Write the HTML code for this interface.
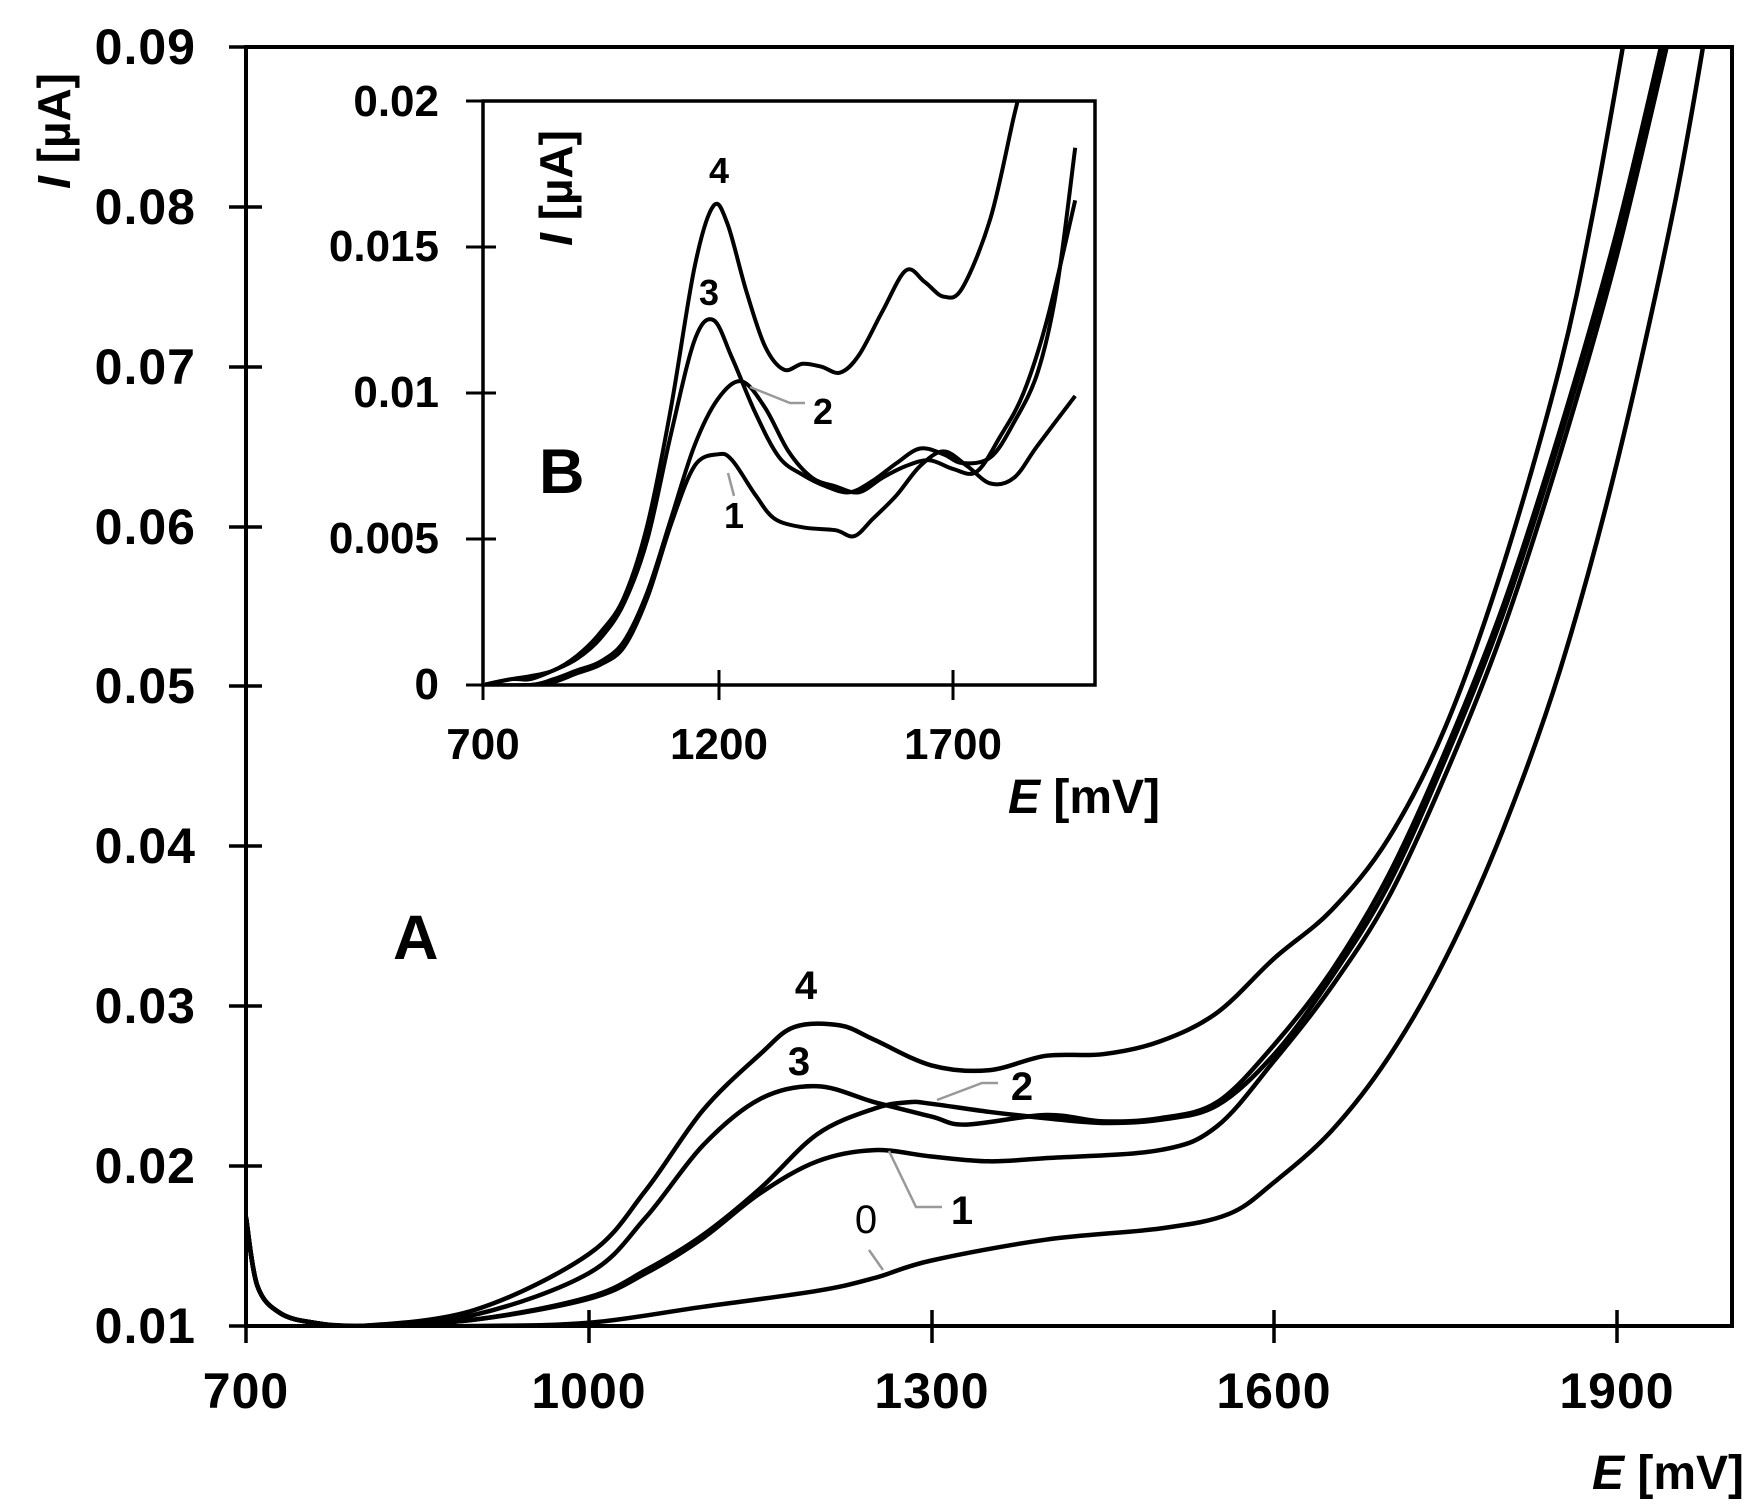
<!DOCTYPE html>
<html><head><meta charset="utf-8"><style>
html,body{margin:0;padding:0;background:#fff;}
svg{display:block;}
text{font-family:"Liberation Sans",Arial,sans-serif;font-weight:bold;fill:#000;}
</style></head><body>
<svg id="s" width="1758" height="1512" viewBox="0 0 1758 1512" xmlns="http://www.w3.org/2000/svg">
<g id="main"></g>
<rect x="246" y="47" width="1486" height="1279" fill="none" stroke="#000" stroke-width="4"/>
<g stroke="#000" stroke-width="3.5">
<line x1="229" y1="47" x2="262" y2="47"/><line x1="229" y1="207" x2="262" y2="207"/><line x1="229" y1="367" x2="262" y2="367"/><line x1="229" y1="527" x2="262" y2="527"/><line x1="229" y1="686" x2="262" y2="686"/><line x1="229" y1="846" x2="262" y2="846"/><line x1="229" y1="1006" x2="262" y2="1006"/><line x1="229" y1="1166" x2="262" y2="1166"/><line x1="229" y1="1326" x2="262" y2="1326"/>
<line x1="246" y1="1310" x2="246" y2="1343"/><line x1="589" y1="1310" x2="589" y2="1343"/><line x1="932" y1="1310" x2="932" y2="1343"/><line x1="1274" y1="1310" x2="1274" y2="1343"/><line x1="1617" y1="1310" x2="1617" y2="1343"/>
</g>
<g font-size="50" text-anchor="end" letter-spacing="1">
<text x="196" y="64">0.09</text><text x="196" y="224">0.08</text><text x="196" y="384">0.07</text><text x="196" y="544">0.06</text><text x="196" y="703">0.05</text><text x="196" y="863">0.04</text><text x="196" y="1023">0.03</text><text x="196" y="1183">0.02</text><text x="196" y="1343">0.01</text>
</g>
<g font-size="50" text-anchor="middle" letter-spacing="1">
<text x="246" y="1408">700</text><text x="589" y="1408">1000</text><text x="932" y="1408">1300</text><text x="1274" y="1408">1600</text><text x="1617" y="1408">1900</text>
</g>
<text x="1744" y="1489" font-size="48" text-anchor="end"><tspan font-style="italic">E</tspan> [mV]</text>
<text transform="translate(70,73) rotate(-90)" font-size="46" text-anchor="end"><tspan font-style="italic">I</tspan> [µA]</text>
<text x="393" y="959" font-size="63">A</text>
<g font-size="40" text-anchor="middle">
<text x="806" y="999">4</text><text x="799" y="1075">3</text><text x="1022" y="1100">2</text><text x="962" y="1224">1</text><text x="866" y="1233" style="font-weight:normal">0</text>
</g>
<g stroke="#999" stroke-width="2.5" fill="none">
<polyline points="937,1100 982,1083 998,1083"/>
<polyline points="889,1151 916,1207 942,1207"/>
<polyline points="869,1250 883,1270"/>
</g>
<rect x="485" y="101" width="610" height="584" fill="#fff" stroke="none"/>
<g id="inset"></g>
<rect x="483" y="101" width="612" height="584" fill="none" stroke="#000" stroke-width="3.5"/>
<g stroke="#000" stroke-width="3">
<line x1="466" y1="101" x2="496" y2="101"/><line x1="466" y1="247" x2="496" y2="247"/><line x1="466" y1="393" x2="496" y2="393"/><line x1="466" y1="539" x2="496" y2="539"/><line x1="466" y1="685" x2="496" y2="685"/>
<line x1="483" y1="670" x2="483" y2="700"/><line x1="719" y1="670" x2="719" y2="700"/><line x1="953" y1="670" x2="953" y2="700"/>
</g>
<g font-size="44" text-anchor="end">
<text x="439" y="116">0.02</text><text x="439" y="261">0.015</text><text x="439" y="407">0.01</text><text x="439" y="553">0.005</text><text x="439" y="699">0</text>
</g>
<g font-size="44" text-anchor="middle">
<text x="483" y="759">700</text><text x="719" y="759">1200</text><text x="953" y="759">1700</text>
</g>
<text x="1160" y="813" font-size="48" text-anchor="end"><tspan font-style="italic">E</tspan> [mV]</text>
<text transform="translate(572,130) rotate(-90)" font-size="46" text-anchor="end"><tspan font-style="italic">I</tspan> [µA]</text>
<text x="539" y="493" font-size="63">B</text>
<g font-size="36" text-anchor="middle">
<text x="719" y="183">4</text><text x="709" y="305">3</text><text x="823" y="424">2</text><text x="734" y="528">1</text>
</g>
<g stroke="#999" stroke-width="2.5" fill="none">
<polyline points="750,387 790,403 805,403"/>
<polyline points="728,473 734,496"/>
</g>
</svg>
<script>
function cr(pts){var d="M"+pts[0][0].toFixed(1)+","+pts[0][1].toFixed(1);
for(var i=0;i<pts.length-1;i++){var p0=pts[i-1]||pts[i],p1=pts[i],p2=pts[i+1],p3=pts[i+2]||p2;
var c1x=p1[0]+(p2[0]-p0[0])/6,c1y=p1[1]+(p2[1]-p0[1])/6,c2x=p2[0]-(p3[0]-p1[0])/6,c2y=p2[1]-(p3[1]-p1[1])/6;
d+=" C"+c1x.toFixed(1)+","+c1y.toFixed(1)+" "+c2x.toFixed(1)+","+c2y.toFixed(1)+" "+p2[0].toFixed(1)+","+p2[1].toFixed(1);}return d;}
function draw(g,data,X,Y,w,clip){var el=document.getElementById(g);var ns="http://www.w3.org/2000/svg";
data.forEach(function(c){var pts=c.map(function(p){return [X(p[0]),Y(p[1])];});
var path=document.createElementNS(ns,"path");path.setAttribute("d",cr(pts));path.setAttribute("fill","none");
path.setAttribute("stroke","#000");path.setAttribute("stroke-width",w);path.setAttribute("stroke-linejoin","round");
if(clip)path.setAttribute("clip-path",clip);el.appendChild(path);});}
var ns="http://www.w3.org/2000/svg",s=document.getElementById("s"),defs=document.createElementNS(ns,"defs");
defs.innerHTML='<clipPath id="cm"><rect x="246" y="47" width="1486" height="1279"/></clipPath><clipPath id="ci"><rect x="485" y="101" width="610" height="584"/></clipPath>';
s.insertBefore(defs,s.firstChild);
var MX=function(e){return 246+(e-700)*1.1425},MY=function(i){return 1326-(i-0.01)*15987};
var start=[[700,0.0168],[710,0.0125],[730,0.0108],[760,0.0102],[800,0.0100]];
var main=[
start.concat([[900,0.0100],[1000,0.0102],[1100,0.0112],[1200,0.0122],[1250,0.0130],[1300,0.0141],[1400,0.0154],[1500,0.0161],[1560,0.0170],[1600,0.0190],[1650,0.0222],[1700,0.0268],[1750,0.0330],[1800,0.0410],[1850,0.0510],[1900,0.0640],[1950,0.0800],[1980,0.0920]]),
start.concat([[900,0.0104],[1000,0.0117],[1050,0.0133],[1100,0.0155],[1150,0.0183],[1200,0.0203],[1250,0.0210],[1300,0.0206],[1350,0.0203],[1400,0.0205],[1500,0.0210],[1550,0.0225],[1600,0.0266],[1650,0.0312],[1700,0.0368],[1750,0.0445],[1800,0.0535],[1850,0.0645],[1900,0.0770],[1950,0.0920]]),
start.concat([[900,0.0104],[1000,0.0118],[1050,0.0135],[1100,0.0157],[1150,0.0186],[1200,0.0220],[1250,0.0236],[1280,0.0240],[1300,0.0239],[1350,0.0234],[1400,0.0230],[1450,0.0227],[1500,0.0229],[1550,0.0238],[1600,0.0270],[1650,0.0318],[1700,0.0376],[1750,0.0455],[1800,0.0545],[1850,0.0655],[1900,0.0780],[1950,0.0930]]),
start.concat([[900,0.0107],[1000,0.0133],[1050,0.0168],[1100,0.0213],[1150,0.0242],[1200,0.0250],[1250,0.0240],[1300,0.0231],[1330,0.0226],[1400,0.0232],[1450,0.0228],[1500,0.0230],[1550,0.0240],[1600,0.0276],[1650,0.0322],[1700,0.0382],[1750,0.0460],[1800,0.0550],[1850,0.0660],[1900,0.0785],[1945,0.0920]]),
start.concat([[900,0.0110],[1000,0.0145],[1050,0.0185],[1100,0.0235],[1150,0.0270],[1180,0.0287],[1220,0.0288],[1250,0.0279],[1300,0.0263],[1350,0.0260],[1400,0.0269],[1450,0.0270],[1500,0.0278],[1550,0.0296],[1600,0.0330],[1650,0.0360],[1700,0.0405],[1750,0.0475],[1800,0.0575],[1850,0.0700],[1880,0.0800],[1910,0.0920]])];
draw("main",main,MX,MY,4.5,"url(#cm)");
var IX=function(e){return 483+(e-700)*0.47},IY=function(i){return 685-i*29200};
var inset=[
[[700,0],[760,0.0002],[800,0.0003],[850,0.0005],[900,0.0010],[950,0.0018],[1000,0.0030],[1050,0.0055],[1100,0.0095],[1150,0.0143],[1190,0.0164],[1220,0.0158],[1260,0.0135],[1300,0.0116],[1340,0.0108],[1380,0.0110],[1420,0.0109],[1460,0.0107],[1500,0.0113],[1550,0.0128],[1600,0.0142],[1640,0.0138],[1680,0.0133],[1720,0.0136],[1780,0.0160],[1830,0.0195],[1860,0.0215]],
[[700,0],[760,0.0002],[800,0.0002],[850,0.0005],[900,0.0009],[950,0.0016],[1000,0.0028],[1050,0.0050],[1100,0.0086],[1150,0.0118],[1190,0.0125],[1230,0.0112],[1280,0.0093],[1330,0.0078],[1380,0.0072],[1430,0.0068],[1480,0.0066],[1530,0.0070],[1580,0.0076],[1630,0.0081],[1680,0.0079],[1720,0.0076],[1780,0.0078],[1830,0.0090],[1880,0.0107],[1920,0.0135],[1960,0.0184]],
[[700,0],[800,0],[850,0.0002],[900,0.0005],[950,0.0008],[1000,0.0015],[1050,0.0032],[1100,0.0057],[1150,0.0082],[1200,0.0098],[1250,0.0104],[1300,0.0095],[1350,0.0080],[1400,0.0071],[1450,0.0068],[1500,0.0066],[1550,0.0071],[1600,0.0075],[1650,0.0077],[1700,0.0074],[1750,0.0073],[1800,0.0085],[1850,0.0100],[1900,0.0125],[1960,0.0166]],
[[700,0],[800,0],[850,0.0001],[900,0.0004],[950,0.0007],[1000,0.0013],[1050,0.0030],[1100,0.0055],[1150,0.0075],[1200,0.0079],[1230,0.0077],[1280,0.0065],[1320,0.0057],[1380,0.0054],[1450,0.0053],[1490,0.0051],[1530,0.0057],[1580,0.0065],[1630,0.0075],[1680,0.0080],[1730,0.0075],[1780,0.0069],[1830,0.0071],[1880,0.0082],[1960,0.0099]]];
draw("inset",inset,IX,IY,4,"url(#ci)");
</script>
</body></html>
